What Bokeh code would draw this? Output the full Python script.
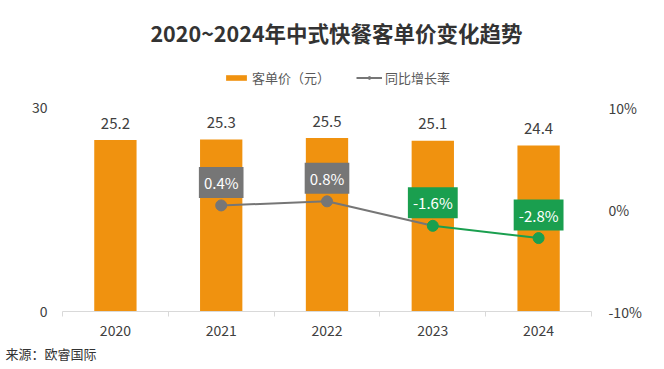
from bokeh.plotting import figure
from bokeh.models import (Range1d, LinearAxis, FixedTicker, Title, Label, Legend, LegendItem)
from bokeh.core.properties import value
from bokeh.embed import file_html
from bokeh.resources import INLINE

years = ["2020", "2021", "2022", "2023", "2024"]
price = [25.2, 25.3, 25.5, 25.1, 24.4]
growth = [None, 0.4, 0.8, -1.6, -2.8]
left_ticks = [0, 30]
right_ticks = [-10, 0, 10]

FONT = "Noto Sans CJK SC"
ORANGE = "#F0920F"
GRAY = "#767676"
GREEN = "#1A9F4F"
TXT = "#404040"
NAN = float("nan")

# frame spans from the title area down to the category axis; the value ranges
# leave headroom above the top tick (30 / 10%) for the title and legend
p = figure(width=660, height=365, x_range=Range1d(0, len(years)), y_range=Range1d(0, 42.79),
           output_backend="svg", toolbar_location=None,
           min_border_left=62, min_border_right=69, min_border_top=20, min_border_bottom=54)
p.outline_line_color = None
p.xgrid.visible = False
p.ygrid.visible = False

xs = [i + 0.5 for i in range(len(years))]

# bars
bars = p.vbar(x=xs, top=price, width=0.4, fill_color=ORANGE, line_color=None)
p.text(x=xs, y=price, text=[f"{v:.1f}" for v in price], text_align="center", text_baseline="middle",
       y_offset=-17, text_font=value(FONT), text_font_size="15px", text_color=TXT)

# growth line on right axis
p.extra_y_ranges = {"pct": Range1d(-10, 18.53)}
gx = [xs[i] for i in range(len(years)) if growth[i] is not None]
gy = [g for g in growth if g is not None]
gcol = [GRAY if g >= 0 else GREEN for g in gy]
p.segment(x0=gx[:-1], y0=gy[:-1], x1=gx[1:], y1=gy[1:], line_color=gcol[:-1], line_width=2,
          y_range_name="pct")
p.scatter(x=gx, y=gy, size=11, fill_color=gcol, line_color=gcol, y_range_name="pct")
p.text(x=gx, y=gy, text=[f"{g:.1f}%" for g in gy], text_align="center", text_baseline="middle",
       y_offset=-23, text_font=value(FONT), text_font_size="15px", text_color="white",
       background_fill_color=gcol, padding=5, y_range_name="pct")

# axes
xa = p.xaxis[0]
xa.ticker = FixedTicker(ticks=xs, minor_ticks=list(range(len(years) + 1)))
xa.major_label_overrides = {x: y for x, y in zip(xs, years)}
xa.major_tick_line_color = None
xa.major_tick_out = 0
xa.minor_tick_out = 5
xa.minor_tick_in = 0
xa.minor_tick_line_color = "#D9D9D9"
xa.axis_line_color = "#D9D9D9"
xa.major_label_text_font = FONT
xa.major_label_text_font_size = "14px"
xa.major_label_text_color = TXT
xa.major_label_standoff = 8

ya = p.yaxis[0]
ya.ticker = FixedTicker(ticks=left_ticks)
ya.axis_line_color = None
ya.major_tick_line_color = None
ya.minor_tick_line_color = None
ya.major_tick_out = 0
ya.major_label_standoff = 15
ya.major_label_text_font = FONT
ya.major_label_text_font_size = "14px"
ya.major_label_text_color = TXT

ra = LinearAxis(y_range_name="pct", ticker=FixedTicker(ticks=right_ticks))
ra.major_label_overrides = {t: f"{t}%" for t in right_ticks}
ra.axis_line_color = None
ra.major_tick_line_color = None
ra.minor_tick_line_color = None
ra.major_tick_out = 0
ra.major_label_standoff = 17
ra.major_label_text_font = FONT
ra.major_label_text_font_size = "14px"
ra.major_label_text_color = TXT
p.add_layout(ra, "right")

# legend (inside the frame headroom)
leg_line = p.line(x=[NAN, NAN], y=[NAN, NAN], line_color=GRAY, line_width=2)
leg_dot = p.scatter(x=[NAN], y=[NAN], size=7, fill_color=GRAY, line_color=GRAY)
legend = Legend(items=[LegendItem(label="客单价（元）", renderers=[bars]),
                       LegendItem(label="同比增长率", renderers=[leg_line, leg_dot])],
                orientation="horizontal", location=(161, 224),
                glyph_width=26, glyph_height=7, label_standoff=3, spacing=26,
                padding=0, margin=0, border_line_color=None, background_fill_alpha=0,
                label_text_font=FONT, label_text_font_size="13px", label_text_color="#595959")
p.add_layout(legend, "center")

# title
p.add_layout(Label(x=274, y=279, x_units="screen", y_units="screen",
                   text="2020~2024年中式快餐客单价变化趋势", text_align="center", text_baseline="middle",
                   text_font=FONT, text_font_size="21.5px", text_font_style="bold", text_color="#333333"))

# source (below axis)
p.add_layout(Title(text="来源：欧睿国际", align="left", offset=-57, standoff=6,
                   text_font=FONT, text_font_size="13px", text_font_style="normal",
                   text_color="#333333"), "below")

open("out.html", "w").write(file_html(p, INLINE))
